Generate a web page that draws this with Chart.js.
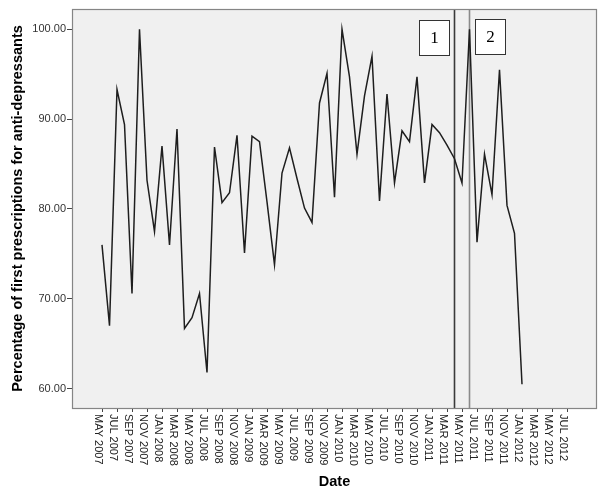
<!DOCTYPE html>
<html>
<head>
<meta charset="utf-8">
<script src="https://cdn.jsdelivr.net/npm/chart.js@4.4.0/dist/chart.umd.min.js"></script>
<style>
html,body{margin:0;padding:0;background:#ffffff;}
#wrap{width:600px;height:492px;position:relative;}
</style>
</head>
<body>
<div id="wrap"><canvas id="c"></canvas></div>
<script>
// Month axis (category scale)
const categories = [
  'JAN 2007','FEB 2007','MAR 2007','APR 2007','MAY 2007','JUN 2007','JUL 2007','AUG 2007','SEP 2007','OCT 2007','NOV 2007','DEC 2007',
  'JAN 2008','FEB 2008','MAR 2008','APR 2008','MAY 2008','JUN 2008','JUL 2008','AUG 2008','SEP 2008','OCT 2008','NOV 2008','DEC 2008',
  'JAN 2009','FEB 2009','MAR 2009','APR 2009','MAY 2009','JUN 2009','JUL 2009','AUG 2009','SEP 2009','OCT 2009','NOV 2009','DEC 2009',
  'JAN 2010','FEB 2010','MAR 2010','APR 2010','MAY 2010','JUN 2010','JUL 2010','AUG 2010','SEP 2010','OCT 2010','NOV 2010','DEC 2010',
  'JAN 2011','FEB 2011','MAR 2011','APR 2011','MAY 2011','JUN 2011','JUL 2011','AUG 2011','SEP 2011','OCT 2011','NOV 2011','DEC 2011',
  'JAN 2012','FEB 2012','MAR 2012','APR 2012','MAY 2012','JUN 2012','JUL 2012','AUG 2012','SEP 2012','OCT 2012','NOV 2012'
];
// First observed month of the series
const firstObservedMonth = 'MAY 2007';
// Monthly percentage of first prescriptions for anti-depressants (MAY 2007 .. JAN 2012)
const values = [
  76.0, 67.0, 93.3, 89.4, 70.6, 100.0, 83.2, 77.5, 87.0, 76.0, 88.9, 66.7,
  67.9, 70.6, 61.8, 86.9, 80.7, 81.8, 88.2, 75.1, 88.1, 87.5, 80.8, 73.8,
  84.0, 86.8, 83.4, 80.1, 78.5, 91.8, 95.1, 81.3, 100.0, 94.7, 86.1, 92.6,
  97.0, 80.9, 92.8, 82.9, 88.7, 87.5, 94.7, 82.9, 89.4, 88.5, 87.1, 85.6,
  82.9, 100.0, 76.3, 86.1, 81.6, 95.5, 80.4, 77.3, 60.5
];
// Tick labels shown on the x axis
const tickLabels = [
  'MAY 2007','JUL 2007','SEP 2007','NOV 2007','JAN 2008','MAR 2008','MAY 2008','JUL 2008',
  'SEP 2008','NOV 2008','JAN 2009','MAR 2009','MAY 2009','JUL 2009','SEP 2009','NOV 2009',
  'JAN 2010','MAR 2010','MAY 2010','JUL 2010','SEP 2010','NOV 2010','JAN 2011','MAR 2011',
  'MAY 2011','JUL 2011','SEP 2011','NOV 2011','JAN 2012','MAR 2012','MAY 2012','JUL 2012'
];
const yTicks = [60, 70, 80, 90, 100];
// Intervention reference lines
const interventionMonths = ['APR 2011', 'JUN 2011'];
const interventionLabels = ['1', '2'];

const FONT = '"Liberation Sans", Arial, sans-serif';
const startIdx = categories.indexOf(firstObservedMonth);
const seriesData = values.map((v, i) => ({ x: categories[startIdx + i], y: v }));

const decor = {
  id: 'decor',
  beforeDraw(chart) {
    const { ctx, chartArea: a } = chart;
    ctx.save();
    ctx.fillStyle = '#f0f0f0';
    ctx.fillRect(a.left, a.top, a.right - a.left, a.bottom - a.top);
    ctx.restore();
  },
  beforeDatasetsDraw(chart) {
    const { ctx, chartArea: a, scales: { x } } = chart;
    const colors = ['#3a3a3a', '#8a8a8a'];
    ctx.save();
    interventionMonths.forEach((m, k) => {
      const px = x.getPixelForValue(categories.indexOf(m));
      ctx.strokeStyle = colors[k];
      ctx.lineWidth = 1.6;
      ctx.beginPath();
      ctx.moveTo(px, a.top);
      ctx.lineTo(px, a.bottom);
      ctx.stroke();
    });
    ctx.restore();
  },
  afterDatasetsDraw(chart) {
    const { ctx, chartArea: a, scales: { x } } = chart;
    ctx.save();
    interventionMonths.forEach((m, k) => {
      const px = x.getPixelForValue(categories.indexOf(m));
      const w = 30, h = 35;
      const bx = k === 0 ? px - 5.5 - w : px + 5.5;
      const by = k === 0 ? 20 : 19;
      ctx.fillStyle = '#ffffff';
      ctx.fillRect(bx, by, w, h);
      ctx.strokeStyle = '#333333';
      ctx.lineWidth = 1;
      ctx.strokeRect(Math.round(bx) + 0.5, Math.round(by) + 0.5, w, h);
      ctx.fillStyle = '#000000';
      ctx.font = '17px "Liberation Serif", "Times New Roman", serif';
      ctx.textAlign = 'center';
      ctx.textBaseline = 'middle';
      ctx.fillText(interventionLabels[k], bx + w / 2 + 0.5, by + h / 2 + 1);
    });
    // plot frame
    ctx.strokeStyle = '#858585';
    ctx.lineWidth = 1.2;
    ctx.strokeRect(a.left + 0.5, a.top + 0.5, a.right - a.left - 1, a.bottom - a.top);
    ctx.restore();
  },
  afterDraw(chart) {
    const { ctx, scales: { x } } = chart;
    ctx.save();
    ctx.font = '11px ' + FONT;
    ctx.fillStyle = '#222222';
    ctx.textAlign = 'left';
    ctx.textBaseline = 'alphabetic';
    x.ticks.forEach(t => {
      const px = x.getPixelForValue(t.value);
      ctx.save();
      ctx.translate(px - 7, chart.chartArea.bottom + 6);
      ctx.rotate(Math.PI / 2);
      ctx.fillText(categories[t.value], 0, 0);
      ctx.restore();
    });
    ctx.restore();
  }
};

new Chart(document.getElementById('c'), {
  type: 'line',
  data: {
    labels: categories,
    datasets: [{
      data: seriesData,
      borderColor: '#1e1e1e',
      borderWidth: 1.5,
      pointRadius: 0,
      tension: 0,
      fill: false,
      spanGaps: false
    }]
  },
  options: {
    responsive: true,
    maintainAspectRatio: false,
    animation: false,
    layout: { padding: { top: 9, right: 3, left: 0, bottom: 0 } },
    plugins: { legend: { display: false }, tooltip: { enabled: false } },
    scales: {
      x: {
        type: 'category',
        offset: false,
        afterBuildTicks: s => { s.ticks = tickLabels.map(l => ({ value: categories.indexOf(l) })); },
        afterFit: s => { s.height = 84; },
        ticks: { display: false, autoSkip: false },
        grid: { drawOnChartArea: false, drawTicks: true, tickLength: 4, color: '#444444', lineWidth: 1 },
        border: { display: false },
        title: {
          display: true,
          text: 'Date',
          color: '#000000',
          font: { family: FONT, size: 14.5, weight: 'bold' },
          padding: { top: 0, bottom: 1.5 }
        }
      },
      y: {
        type: 'linear',
        min: 57.85,
        max: 102.26,
        afterBuildTicks: s => { s.ticks = yTicks.map(v => ({ value: v })); },
        afterFit: s => { s.width = 72; },
        ticks: {
          callback: v => Number(v).toFixed(2),
          color: '#333333',
          padding: 1,
          font: { family: FONT, size: 11 }
        },
        grid: { drawOnChartArea: false, drawTicks: true, tickLength: 5, color: '#444444', lineWidth: 1 },
        border: { display: false },
        title: {
          display: true,
          text: 'Percentage of first prescriptions for anti-depressants',
          color: '#000000',
          font: { family: FONT, size: 14.5, weight: 'bold' },
          padding: { top: 9, bottom: 0 }
        }
      }
    }
  },
  plugins: [decor]
});
</script>
</body>
</html>
